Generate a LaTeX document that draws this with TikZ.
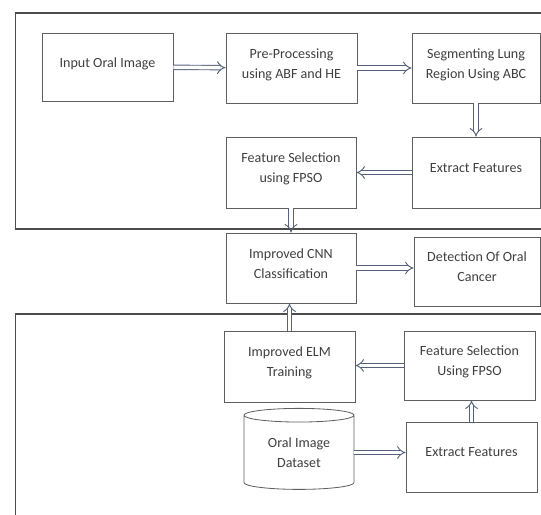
\documentclass[tikz,border=0pt]{standalone}
\usepackage{fontspec}
\setmainfont{Carlito}
\usetikzlibrary{arrows.meta,shapes.geometric}
\definecolor{boxline}{HTML}{5F5F5F}
\definecolor{arrline}{HTML}{56627A}
\definecolor{txt}{HTML}{3F3F3F}
\begin{document}
\begin{tikzpicture}[x=0.03cm,y=-0.03cm,
  box/.style={draw=boxline,line width=0.7pt,text=txt,align=center,font=\fontsize{12}{17}\selectfont,inner sep=0pt,text depth=8pt},
  arr/.style={draw=arrline,line width=0.8pt,double=white,double distance=3pt,-{Implies[scale=1.3]}},
  frame/.style={draw=boxline!80!black,line width=1.1pt}]
\clip (0,0) rectangle (541,515);
% the two groups
\draw[frame] (15.5,13) rectangle (570,229);
\draw[frame] (15.5,314) rectangle (570,550);
% upper row
\node[box,minimum width=3.93cm,minimum height=2.04cm](inimg) at (107.5,67){Input Oral Image};
\node[box,minimum width=3.93cm,minimum height=2.1cm](prep) at (291.5,68){Pre-Processing\\using ABF and HE};
\node[box,minimum width=3.84cm,minimum height=2.1cm](seg) at (476,68){Segmenting Lung\\Region Using ABC};
\node[box,minimum width=3.84cm,minimum height=2.13cm](extr) at (476,172.5){Extract Features};
\node[box,minimum width=3.9cm,minimum height=2.13cm](fsel) at (291,172.5){Feature Selection\\using FPSO};
% classification
\node[box,minimum width=3.9cm,minimum height=2.1cm](cnn) at (291,268){Improved CNN\\Classification};
\node[box,minimum width=3.78cm,minimum height=2.07cm](detect) at (477,271.5){Detection Of Oral\\Cancer};
% training
\node[box,minimum width=3.93cm,minimum height=2.13cm](elm) at (289.5,366.5){Improved ELM\\Training};
\node[box,minimum width=3.93cm,minimum height=2.07cm](fsel2) at (469.5,365.5){Feature Selection\\Using FPSO};
\node[box,cylinder,shape border rotate=90,aspect=0.22,minimum width=3.3cm,minimum height=2.43cm,text depth=0pt](dataset) at (299,452.5){Oral Image\\Dataset};
\node[box,minimum width=3.93cm,minimum height=2.1cm](extr2) at (471.5,457){Extract Features};
\draw[arr](inimg)--(prep);
\draw[arr](prep)--(seg);
\draw[arr](seg)--(extr);
\draw[arr](extr)--(fsel);
\draw[arr](fsel)--(cnn);
\draw[arr](cnn.east)--(cnn.east -| detect.west);
\draw[arr](elm.north)--(elm.north |- cnn.south);
\draw[arr](fsel2.west)--(fsel2.west -| elm.east);
\draw[arr](extr2.north)--(extr2.north |- fsel2.south);
\draw[arr](dataset.east)--(dataset.east -| extr2.west);
\end{tikzpicture}
\end{document}
